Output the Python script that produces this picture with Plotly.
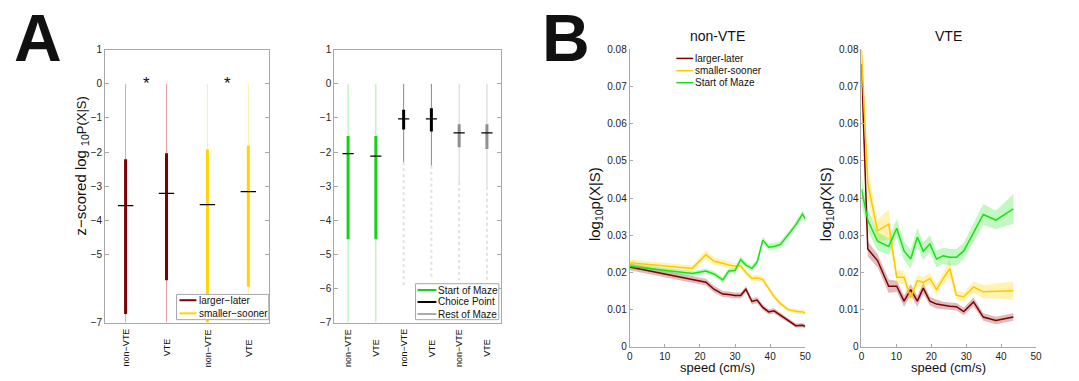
import plotly.graph_objects as go

W, H = 1079, 381
FONT = "Liberation Sans, Arial, Helvetica, sans-serif"

# ---------------- Panel A (left): decoding by reward side ----------------
a1_labels = ["non−VTE", "VTE", "non−VTE", "VTE"]
a1_side = ["larger−later", "larger−later", "smaller−sooner", "smaller−sooner"]
a1_whisker_hi = [0, 0, 0, 0]
a1_whisker_lo = [-7, -7, -7, -7]
a1_box_hi = [-2.21, -2.04, -1.93, -1.82]
a1_box_lo = [-6.75, -5.76, -7.0, -5.94]
a1_median = [-3.57, -3.21, -3.54, -3.16]
a1_signif_pairs = [(1, 2), (3, 4)]
a1_yticks = [1, 0, -1, -2, -3, -4, -5, -7]

# ---------------- Panel A (right): decoding by maze zone ----------------
a2_labels = ["non−VTE", "VTE", "non−VTE", "VTE", "non−VTE", "VTE"]
a2_zone = ["Start of Maze", "Start of Maze", "Choice Point", "Choice Point",
           "Rest of Maze", "Rest of Maze"]
a2_whisker_hi = [0, 0, 0, 0, 0, 0]
a2_whisker_lo = [-7, -7, -2.30, -2.40, -2.88, -3.02]
a2_box_hi = [-1.53, -1.53, -0.76, -0.72, -1.19, -1.19]
a2_box_lo = [-4.56, -4.56, -1.34, -1.40, -1.86, -1.91]
a2_median = [-2.05, -2.12, -1.03, -1.03, -1.44, -1.44]
a2_outlier_lo = [None, None, -5.96, -5.72, -5.75, -5.75]
a2_yticks = [1, 0, -1, -2, -3, -4, -5, -6, -7]

# ---------------- Panel B: decoding vs running speed ----------------
speed_nonvte = [0, 17.8, 21.7, 24.0, 26.5, 28.2, 30.0, 31.6, 33.1, 34.8,
                36.3, 37.9, 39.6, 41.1, 42.9, 45.1, 47.3, 49.2, 50.0]
ll_nonvte = [0.0215, 0.0181, 0.0174, 0.0155, 0.0142, 0.0141, 0.0138, 0.0138,
             0.0155, 0.0122, 0.0126, 0.0106, 0.0094, 0.0097, 0.0085, 0.0072,
             0.0057, 0.0058, 0.0055]
ll_nonvte_sem = [0.0009, 0.0009, 0.0009, 0.0009, 0.0008, 0.0008, 0.0008, 0.0008,
                 0.0008, 0.0008, 0.0008, 0.0007, 0.0007, 0.0007, 0.0007, 0.0006,
                 0.0006, 0.0006, 0.0006]
ss_nonvte = [0.0226, 0.0211, 0.0248, 0.0230, 0.0225, 0.0220, 0.0217, 0.0218,
             0.0200, 0.0184, 0.0186, 0.0181, 0.0157, 0.0135, 0.0117, 0.0100,
             0.0096, 0.0094, 0.0091]
ss_nonvte_sem = [0.0009, 0.0008, 0.0012, 0.0010, 0.0009, 0.0009, 0.0008, 0.0008,
                 0.0008, 0.0008, 0.0008, 0.0008, 0.0007, 0.0007, 0.0006, 0.0006,
                 0.0006, 0.0006, 0.0006]
sm_nonvte = [0.0217, 0.0197, 0.0204, 0.0196, 0.0180, 0.0204, 0.0205, 0.0235,
             0.0220, 0.0211, 0.0228, 0.0287, 0.0268, 0.0270, 0.0275, 0.0300,
             0.0328, 0.0357, 0.0344]
sm_nonvte_sem = [0.0007, 0.0007, 0.0007, 0.0007, 0.0007, 0.0007, 0.0007, 0.0008,
                 0.0008, 0.0008, 0.0008, 0.0009, 0.0009, 0.0009, 0.0009, 0.0009,
                 0.0010, 0.0010, 0.0010]

speed_vte = [0, 1.8, 4.6, 7.8, 10.1, 12.2, 14.1, 16.0, 17.7, 19.6, 21.5,
             23.4, 25.3, 27.2, 29.3, 32.1, 34.9, 38.5, 43.5]
ll_vte = [0.0760, 0.0263, 0.0232, 0.0163, 0.0163, 0.0123, 0.0154, 0.0123,
          0.0158, 0.0123, 0.0115, 0.0111, 0.0109, 0.0108, 0.0095, 0.0121,
          0.0080, 0.0071, 0.0080]
ll_vte_sem = [0.0030, 0.0020, 0.0018, 0.0018, 0.0015, 0.0015, 0.0015, 0.0015,
              0.0015, 0.0012, 0.0012, 0.0010, 0.0010, 0.0010, 0.0010, 0.0012,
              0.0010, 0.0010, 0.0010]
ss_vte = [0.0800, 0.0440, 0.0312, 0.0330, 0.0187, 0.0187, 0.0132, 0.0178,
          0.0173, 0.0184, 0.0154, 0.0184, 0.0210, 0.0139, 0.0134, 0.0161,
          0.0148, 0.0150, 0.0151]
ss_vte_sem = [0.0020, 0.0040, 0.0030, 0.0040, 0.0018, 0.0018, 0.0015, 0.0015,
              0.0015, 0.0015, 0.0015, 0.0015, 0.0025, 0.0012, 0.0012, 0.0015,
              0.0018, 0.0020, 0.0025]
sm_vte = [0.0424, 0.0341, 0.0284, 0.0270, 0.0319, 0.0258, 0.0236, 0.0295,
          0.0257, 0.0277, 0.0236, 0.0245, 0.0241, 0.0241, 0.0258, 0.0306,
          0.0356, 0.0341, 0.0371]
sm_vte_sem = [0.0040, 0.0030, 0.0025, 0.0022, 0.0025, 0.0025, 0.0025, 0.0025,
              0.0023, 0.0023, 0.0022, 0.0022, 0.0022, 0.0022, 0.0022, 0.0025,
              0.0028, 0.0025, 0.0040]

# ---------------- styles ----------------
side_style = {
    "larger−later": dict(thin="#e2a2a2", thick="#7d0000"),
    "smaller−sooner": dict(thin="#fdeea0", thick="#ffd400"),
}
zone_style = {
    "Start of Maze": dict(thin="#a3eea3", thick="#14d214"),
    "Choice Point": dict(thin="#8a8a8a", thick="#000000"),
    "Rest of Maze": dict(thin="#d2d2d2", thick="#8f8f8f"),
}
series_style = {
    "larger-later": dict(line="#800000", band="rgba(150,30,30,0.30)"),
    "smaller-sooner": dict(line="#ffc800", band="rgba(255,215,0,0.30)"),
    "Start of Maze": dict(line="#18e018", band="rgba(40,230,40,0.28)"),
}
AXIS_GRAY = "#a8a8a8"
TEXT = "#111111"


def px(x):
    return x / W


def py(y):
    return 1 - y / H


fig = go.Figure()


def draw_boxes(xa, ya, whi, wlo, bhi, blo, med, groups, style, med_size,
               outlier_lo=None):
    for i in range(len(med)):
        pos = i + 1
        st = style[groups[i]]
        fig.add_trace(go.Scatter(x=[pos, pos], y=[whi[i], wlo[i]], mode="lines",
                                 line=dict(color=st["thin"], width=1),
                                 xaxis=xa, yaxis=ya, hoverinfo="skip"))
        if outlier_lo is not None and outlier_lo[i] is not None:
            fig.add_trace(go.Scatter(x=[pos, pos], y=[wlo[i], outlier_lo[i]],
                                     mode="lines",
                                     line=dict(color="#e2e2e2", width=2, dash="dot"),
                                     xaxis=xa, yaxis=ya, hoverinfo="skip"))
        fig.add_trace(go.Scatter(x=[pos, pos], y=[bhi[i], blo[i]], mode="lines",
                                 line=dict(color=st["thick"], width=3),
                                 xaxis=xa, yaxis=ya, hoverinfo="skip"))
        fig.add_trace(go.Scatter(x=[pos], y=[med[i]], mode="markers",
                                 marker=dict(symbol="line-ew", size=med_size,
                                             line=dict(color="#000000", width=1.3)),
                                 xaxis=xa, yaxis=ya, hoverinfo="skip"))


draw_boxes("x", "y", a1_whisker_hi, a1_whisker_lo, a1_box_hi, a1_box_lo,
           a1_median, a1_side, side_style, 11)
draw_boxes("x2", "y2", a2_whisker_hi, a2_whisker_lo, a2_box_hi, a2_box_lo,
           a2_median, a2_zone, zone_style, 8, a2_outlier_lo)


def draw_series(xa, ya, speed, series):
    # shaded s.e.m. bands first, then the mean traces on top
    for name, vals, sem in series:
        st = series_style[name]
        upper = [v + s for v, s in zip(vals, sem)]
        lower = [v - s for v, s in zip(vals, sem)]
        fig.add_trace(go.Scatter(x=speed, y=upper, mode="lines",
                                 line=dict(width=0, color=st["band"]),
                                 xaxis=xa, yaxis=ya, hoverinfo="skip"))
        fig.add_trace(go.Scatter(x=speed, y=lower, mode="lines", fill="tonexty",
                                 fillcolor=st["band"],
                                 line=dict(width=0, color=st["band"]),
                                 xaxis=xa, yaxis=ya, hoverinfo="skip"))
    for name, vals, sem in series:
        st = series_style[name]
        fig.add_trace(go.Scatter(x=speed, y=vals, mode="lines",
                                 line=dict(color=st["line"], width=1.5),
                                 xaxis=xa, yaxis=ya, name=name))


draw_series("x3", "y3", speed_nonvte, [
    ("larger-later", ll_nonvte, ll_nonvte_sem),
    ("smaller-sooner", ss_nonvte, ss_nonvte_sem),
    ("Start of Maze", sm_nonvte, sm_nonvte_sem),
])
draw_series("x4", "y4", speed_vte, [
    ("larger-later", ll_vte, ll_vte_sem),
    ("smaller-sooner", ss_vte, ss_vte_sem),
    ("Start of Maze", sm_vte, sm_vte_sem),
])


def minus(v):
    return str(v).replace("-", "−")


tick_font = dict(family=FONT, size=10, color="#222222")
box_x = dict(showline=True, mirror=True, linecolor=AXIS_GRAY, linewidth=1,
             ticks="", showticklabels=False, showgrid=False, zeroline=False,
             fixedrange=True)
box_y = dict(showline=True, mirror="ticks", linecolor=AXIS_GRAY, linewidth=1,
             ticks="inside", ticklen=4, tickcolor=AXIS_GRAY, showgrid=False,
             zeroline=False, range=[-7, 1], tickfont=tick_font)
open_x = dict(showline=True, linecolor=AXIS_GRAY, linewidth=1, ticks="inside",
              ticklen=3, tickcolor=AXIS_GRAY, showgrid=False, zeroline=False,
              range=[0, 50], dtick=10, tickfont=tick_font)
open_y = dict(showline=True, linecolor=AXIS_GRAY, linewidth=1, ticks="inside",
              ticklen=3, tickcolor=AXIS_GRAY, showgrid=False, zeroline=False,
              range=[0, 0.08], dtick=0.01, tickfont=tick_font)

fig.update_layout(
    width=W, height=H, margin=dict(l=0, r=0, t=0, b=0),
    paper_bgcolor="white", plot_bgcolor="white", showlegend=False,
    font=dict(family=FONT, color=TEXT),
    xaxis=dict(box_x, domain=[px(103), px(268)], range=[0.5, len(a1_labels) + 0.5],
               anchor="y"),
    yaxis=dict(box_y, domain=[py(327), py(46)], anchor="x",
               tickvals=a1_yticks, ticktext=[minus(v) for v in a1_yticks]),
    xaxis2=dict(box_x, domain=[px(334), px(502)], range=[0.5, len(a2_labels) + 0.5],
                anchor="y2"),
    yaxis2=dict(box_y, domain=[py(327), py(46)], anchor="x2",
                tickvals=a2_yticks, ticktext=[minus(v) for v in a2_yticks]),
    xaxis3=dict(open_x, domain=[px(632), px(809)], anchor="y3"),
    yaxis3=dict(open_y, domain=[py(352), py(45.7)], anchor="x3"),
    xaxis4=dict(open_x, domain=[px(865.7), px(1041.7)], anchor="y4"),
    yaxis4=dict(open_y, domain=[py(352), py(45.7)], anchor="x4"),
)


def note(x, y, text, size, xref="paper", yref="paper", angle=0,
         xanchor="center", yanchor="middle"):
    fig.add_annotation(x=x, y=y, xref=xref, yref=yref, text=text,
                       textangle=angle, showarrow=False, xanchor=xanchor,
                       yanchor=yanchor, font=dict(family=FONT, size=size, color=TEXT))


# rotated category labels under the box panels
for xref, labels in (("x", a1_labels), ("x2", a2_labels)):
    for i, lab in enumerate(labels):
        note(i + 1, py(353), lab, 9, xref=xref, angle=-90)

# significance markers
for a, b in a1_signif_pairs:
    note((a + b) / 2, 0.02, "*", 17, xref="x", yref="y")

# axis titles
note(px(79), py(166),
     "z−scored log <sub>10</sub><span style='font-size:13px'>P(X|S)</span>",
     15, angle=-90)
for xc, title in ((720.5, "non-VTE"), (953.7, "VTE")):
    note(px(xc), py(32), title, 14)
    note(px(xc), py(373.5), "speed (cm/s)", 13)
for xc in (597, 830):
    note(px(xc), py(205), "log<sub>10</sub>p(X|S)", 15, angle=-90)

# panel letters
for xc, letter in ((35, "A"), (568, "B")):
    note(px(xc), py(34), "<b>" + letter + "</b>", 66)


def add_key(entries, line_x, text_x, rows, box=None):
    if box is not None:
        x0, y0, x1, y1 = box
        fig.add_shape(type="rect", xref="paper", yref="paper", layer="above",
                      x0=px(x0), x1=px(x1), y0=py(y1), y1=py(y0),
                      line=dict(color=AXIS_GRAY, width=1), fillcolor="white")
    for (label, color, width), yr in zip(entries, rows):
        fig.add_shape(type="line", xref="paper", yref="paper", layer="above",
                      x0=px(line_x[0]), x1=px(line_x[1]), y0=py(yr), y1=py(yr),
                      line=dict(color=color, width=width))
        note(px(text_x), py(yr), label, 10, xanchor="left")


add_key([("larger−later", side_style["larger−later"]["thick"], 2),
         ("smaller−sooner", side_style["smaller−sooner"]["thick"], 2)],
        (178, 195), 196, (304, 317.5), box=(175, 298, 268, 324))
add_key([("Start of Maze", zone_style["Start of Maze"]["thick"], 2),
         ("Choice Point", zone_style["Choice Point"]["thick"], 2),
         ("Rest of Maze", zone_style["Rest of Maze"]["thick"], 1.5)],
        (418, 437), 437, (293.5, 305.8, 318.2), box=(416, 287, 500, 324))
add_key([("larger-later", series_style["larger-later"]["line"], 1.5),
         ("smaller-sooner", series_style["smaller-sooner"]["line"], 1.5),
         ("Start of Maze", series_style["Start of Maze"]["line"], 1.5)],
        (679, 696), 696, (55, 67.7, 80))

fig.write_html("out.html")
